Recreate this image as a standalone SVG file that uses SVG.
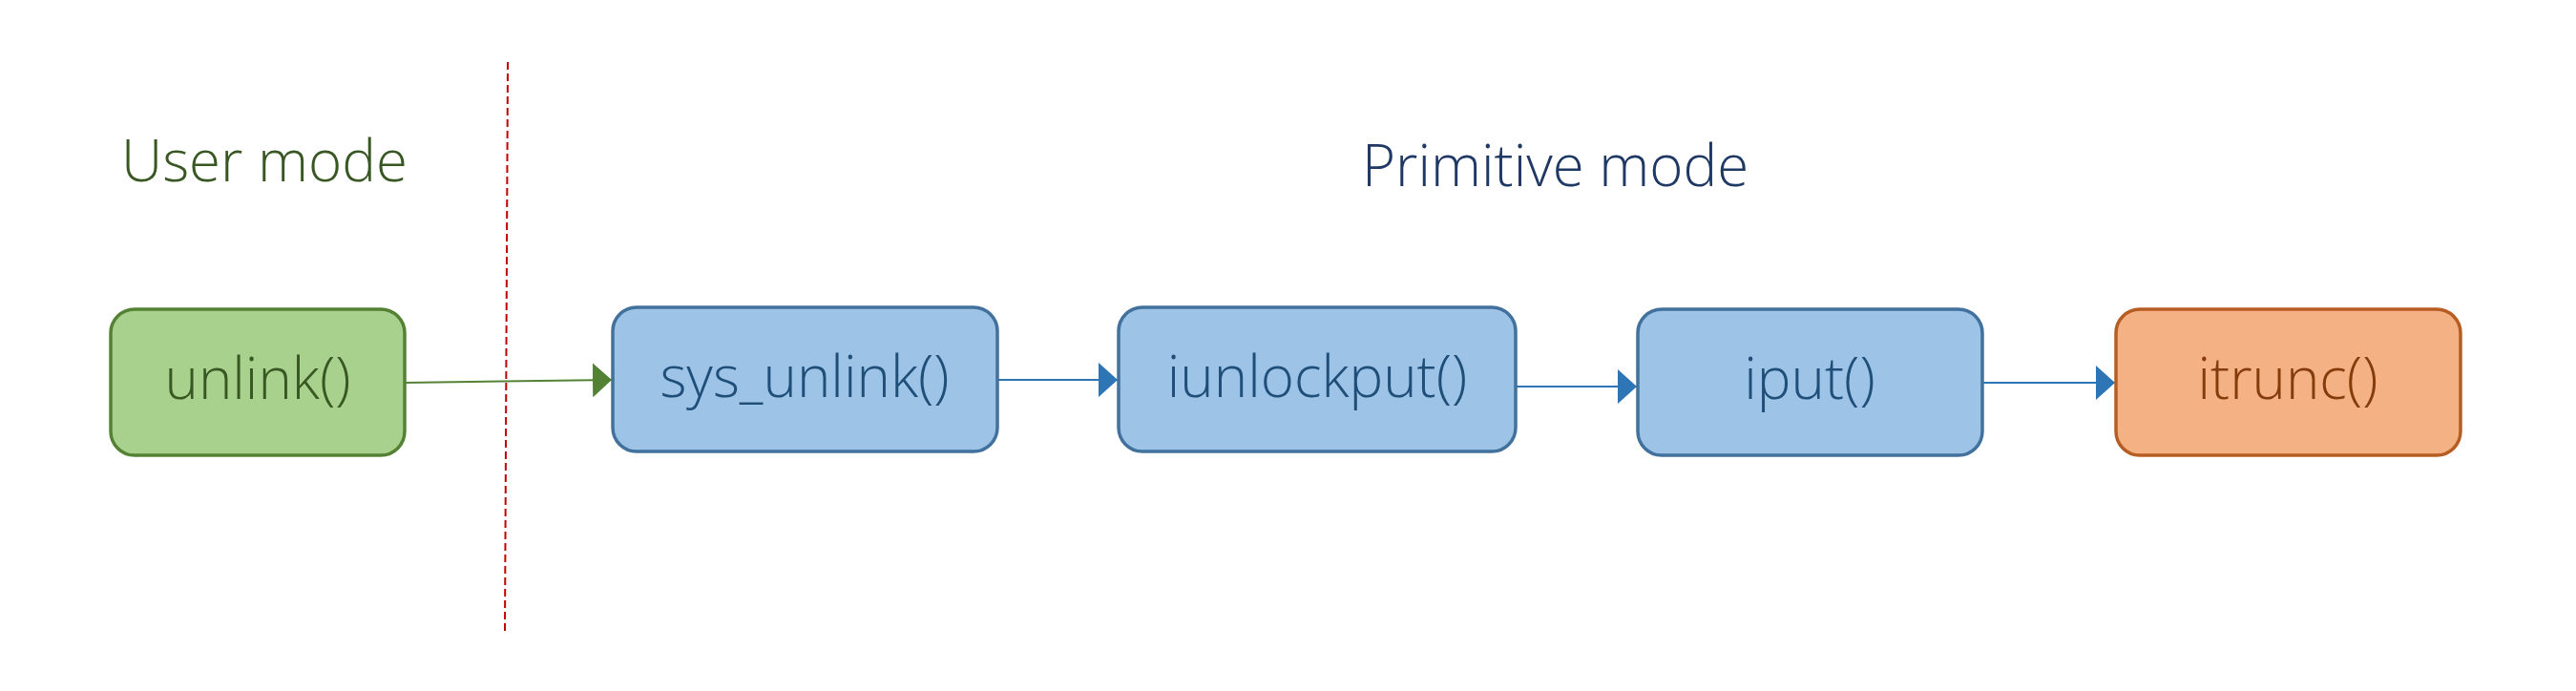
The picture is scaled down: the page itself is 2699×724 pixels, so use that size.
<svg xmlns="http://www.w3.org/2000/svg" width="2699" height="724" viewBox="0 0 2699 724">
<defs>
<style>
.lbl{font-family:"Open Sans","Liberation Sans",sans-serif;font-weight:300;font-size:60px;text-anchor:middle}
.title{font-family:"Open Sans","Liberation Sans",sans-serif;font-weight:300;font-size:60px}
.box{stroke-width:3.5}
.green{fill:#a9d18e;stroke:#548235}
.blue{fill:#9dc3e6;stroke:#41719c}
.orange{fill:#f4b183;stroke:#b55d22}
.conn{fill:none;stroke-width:2}
</style>
<marker id="ahG" markerWidth="20" markerHeight="36" refX="20" refY="18" orient="auto" markerUnits="userSpaceOnUse"><path d="M0,0 L20,18 L0,36 Z" fill="#548235"/></marker>
<marker id="ahB" markerWidth="20" markerHeight="36" refX="20" refY="18" orient="auto" markerUnits="userSpaceOnUse"><path d="M0,0 L20,18 L0,36 Z" fill="#2e75b6"/></marker>
</defs>
<rect width="2699" height="724" fill="#ffffff"/>
<text class="title" x="127" y="190" fill="#385723">User mode</text>
<text class="title" x="1427" y="195" fill="#1f3864">Primitive mode</text>
<line x1="532" y1="65" x2="529" y2="661" stroke="#c00000" stroke-width="2" stroke-dasharray="8,4"/>
<g id="connectors">
<path class="conn" d="M424,401 L641,398" stroke="#548235" marker-end="url(#ahG)"/>
<path class="conn" d="M1045,398 L1171,398" stroke="#2e75b6" marker-end="url(#ahB)"/>
<path class="conn" d="M1588,405 L1715,405" stroke="#2e75b6" marker-end="url(#ahB)"/>
<path class="conn" d="M2077,401 L2216,401" stroke="#2e75b6" marker-end="url(#ahB)"/>
</g>
<g id="unlink">
<rect class="box green" x="116" y="324" width="308" height="153" rx="25"/>
<text class="lbl" x="270" y="418" fill="#385723">unlink()</text>
</g>
<g id="sys_unlink">
<rect class="box blue" x="642" y="322" width="403" height="151" rx="25"/>
<text class="lbl" x="843" y="416" fill="#1f4e79">sys_unlink()</text>
</g>
<g id="iunlockput">
<rect class="box blue" x="1172" y="322" width="416" height="151" rx="25"/>
<text class="lbl" x="1380" y="416" fill="#1f4e79">iunlockput()</text>
</g>
<g id="iput">
<rect class="box blue" x="1716" y="324" width="361" height="153" rx="25"/>
<text class="lbl" x="1896" y="418" fill="#1f4e79">iput()</text>
</g>
<g id="itrunc">
<rect class="box orange" x="2217" y="324" width="361" height="153" rx="25"/>
<text class="lbl" x="2397" y="418" fill="#843c0c">itrunc()</text>
</g>
</svg>
